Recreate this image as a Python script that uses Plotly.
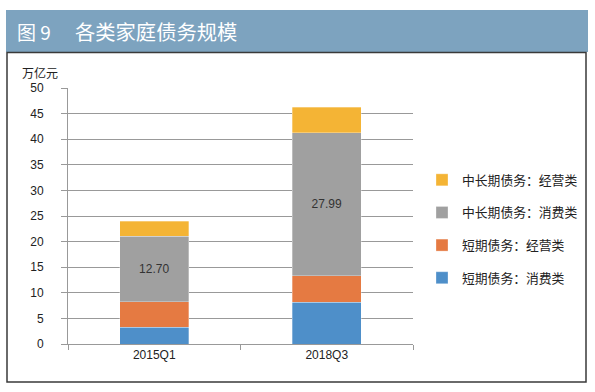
import plotly.graph_objects as go

categories = ["2015Q1", "2018Q3"]
series_names = ["短期债务：消费类", "短期债务：经营类", "中长期债务：消费类", "中长期债务：经营类"]
short_consumer = [3.3, 8.2]
short_business = [5.0, 5.1]
long_consumer = [12.70, 27.99]
long_business = [3.0, 5.0]
series_values = [short_consumer, short_business, long_consumer, long_business]
colors = ["#4E8FC9", "#E57A42", "#A0A0A0", "#F4B435"]
y_ticks = [0, 5, 10, 15, 20, 25, 30, 35, 40, 45, 50]

FONT = "Liberation Sans, Arial, Noto Sans CJK SC, sans-serif"
CJK = "Noto Sans CJK SC, sans-serif"

fig = go.Figure()
for i, (name, vals, col) in enumerate(zip(series_names, series_values, colors)):
    show_text = (i == 2)
    fig.add_trace(go.Bar(
        x=categories, y=vals, name=name,
        marker=dict(color=col, line=dict(color="rgba(255,255,255,0.6)", width=0.5)),
        text=[f"{v:.2f}" for v in vals] if show_text else None,
        textposition="inside" if show_text else "none",
        insidetextanchor="middle",
        textfont=dict(family=FONT, size=12, color="#333333"),
        legendgroup=f"g{i}",
        legendrank=1000 - i,
        hoverinfo="x+y+name",
    ))

W, H = 595, 392
L, R, T, B = 68, 182, 88, 48
pw, ph = W - L - R, H - T - B

def px(x):
    return (x - L) / pw

def py(y):
    return (H - B - y) / ph

shapes = [
    dict(type="rect", xref="paper", yref="paper", x0=px(6), x1=px(588), y0=py(52), y1=py(10),
         fillcolor="#7DA3BF", line=dict(width=0), layer="below"),
    dict(type="rect", xref="paper", yref="paper", x0=px(7), x1=px(586), y0=py(382), y1=py(52.5),
         fillcolor="rgba(0,0,0,0)", line=dict(color="#3A3A3A", width=1.5)),
]

annotations = [
    dict(text="图 9", xref="paper", yref="paper", x=px(15), y=py(31), xanchor="left", yanchor="middle",
         showarrow=False, font=dict(family=CJK, size=19, color="white")),
    dict(text="各类家庭债务规模", xref="paper", yref="paper", x=px(73), y=py(31), xanchor="left", yanchor="middle",
         showarrow=False, font=dict(family=CJK, size=20.3, color="white")),
    dict(text="万亿元", xref="paper", yref="paper", x=px(40), y=py(72), xanchor="center", yanchor="middle",
         showarrow=False, font=dict(family=CJK, size=12, color="#222222")),
]

fig.update_layout(
    width=W, height=H,
    margin=dict(l=L, r=R, t=T, b=B, autoexpand=False),
    paper_bgcolor="white", plot_bgcolor="white",
    barmode="stack", bargap=0.6,
    font=dict(family=FONT, size=12, color="#333333"),
    shapes=shapes, annotations=annotations,
    legend=dict(
        x=px(422), y=py(165), xanchor="left", yanchor="top",
        traceorder="grouped", tracegroupgap=13,
        font=dict(family=CJK, size=12.8, color="#222222"),
        itemwidth=30, bgcolor="rgba(0,0,0,0)",
    ),
    xaxis=dict(
        type="category", showline=True, linecolor="#999999", linewidth=1,
        ticks="outside", tickson="boundaries", ticklen=5, tickcolor="#999999",
        tickfont=dict(family=FONT, size=12, color="#222222"),
        showgrid=False,
    ),
    yaxis=dict(
        range=[0, 50], tickvals=y_ticks, showline=True, linecolor="#999999", linewidth=1,
        ticks="outside", ticklen=6, tickcolor="#999999",
        showgrid=True, gridcolor="#999999", gridwidth=1,
        tickfont=dict(family=FONT, size=12, color="#222222"),
        ticklabelstandoff=15, zeroline=False,
    ),
)

fig.write_html("out.html", config={"displayModeBar": False},
               post_script="document.body.style.margin='0';document.body.style.overflow='hidden';")
